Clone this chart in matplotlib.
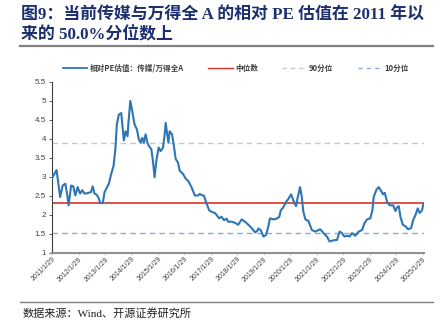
import numpy as np
import pandas as pd
import matplotlib.pyplot as plt
from matplotlib.lines import Line2D

# Relative PE (media / Wind All A), 2011-2025
dates = [
    "2011-01-29", "2011-04-01", "2011-05-20", "2011-06-24", "2011-07-31", "2011-08-20",
    "2011-09-15", "2011-10-18", "2011-11-18", "2011-12-16", "2012-01-17", "2012-02-20",
    "2012-03-22", "2012-04-19", "2012-05-30", "2012-07-18", "2012-08-12", "2012-09-05",
    "2012-10-06", "2012-11-04", "2012-11-23", "2012-12-29", "2013-01-22", "2013-03-22",
    "2013-04-24", "2013-05-26", "2013-06-22", "2013-07-10", "2013-08-07", "2013-09-09",
    "2013-09-23", "2013-10-15", "2013-11-08", "2013-12-05", "2013-12-19", "2014-01-12",
    "2014-02-09", "2014-03-12", "2014-04-13", "2014-05-10", "2014-06-03", "2014-06-26",
    "2014-07-18", "2014-08-11", "2014-09-04", "2014-09-26", "2014-10-29", "2014-11-20",
    "2014-12-13", "2015-01-06", "2015-02-07", "2015-03-07", "2015-04-08", "2015-05-01",
    "2015-05-15", "2015-06-02", "2015-06-21", "2015-07-09", "2015-08-10", "2015-09-02",
    "2015-09-30", "2015-11-01", "2015-11-24", "2016-01-09", "2016-02-15", "2016-03-18",
    "2016-05-05", "2016-06-20", "2016-08-05", "2016-08-28", "2016-10-04", "2016-10-22",
    "2016-11-28", "2017-01-04", "2017-02-06", "2017-03-23", "2017-04-15", "2017-05-21",
    "2017-06-23", "2017-07-29", "2017-09-01", "2017-09-23", "2017-11-09", "2017-12-25",
    "2018-02-09", "2018-03-28", "2018-05-13", "2018-06-28", "2018-08-14", "2018-09-29",
    "2018-10-30", "2018-11-13", "2018-12-16", "2019-01-21", "2019-02-27", "2019-03-30",
    "2019-04-22", "2019-06-07", "2019-07-24", "2019-08-29", "2019-09-18", "2019-10-24",
    "2019-11-30", "2020-01-01", "2020-02-07", "2020-03-10", "2020-04-16", "2020-05-10",
    "2020-06-11", "2020-07-04", "2020-07-26", "2020-08-23", "2020-10-04", "2020-11-20",
    "2021-01-05", "2021-03-15", "2021-04-30", "2021-06-16", "2021-07-22", "2021-09-16",
    "2021-11-02", "2021-12-08", "2022-01-10", "2022-02-11", "2022-03-20", "2022-04-25",
    "2022-05-28", "2022-07-13", "2022-08-28", "2022-10-14", "2022-11-15", "2022-12-22",
    "2023-02-05", "2023-03-05", "2023-03-23", "2023-04-29", "2023-05-31", "2023-06-24",
    "2023-07-31", "2023-08-22", "2023-09-24", "2023-10-30", "2023-12-16", "2024-01-17",
    "2024-02-09", "2024-03-03", "2024-03-26", "2024-04-27", "2024-06-03", "2024-07-10",
    "2024-08-20", "2024-09-17", "2024-10-18", "2024-11-19", "2024-12-16", "2025-01-19",
    "2025-02-05",
]
relative_pe = [
    2.97, 3.18, 2.47, 2.77, 2.82, 2.60,
    2.25, 2.77, 2.75, 2.51, 2.73, 2.56,
    2.65, 2.56, 2.57, 2.60, 2.75, 2.56,
    2.53, 2.43, 2.31, 2.31, 2.60, 2.82,
    3.08, 3.29, 3.77, 4.38, 4.64, 4.68,
    4.40, 3.96, 4.20, 4.07, 4.46, 5.00,
    4.72, 4.38, 4.25, 3.99, 3.90, 4.03,
    3.90, 4.12, 3.90, 3.81, 3.73, 3.42,
    2.99, 3.42, 3.77, 3.68, 3.77, 4.12,
    4.42, 4.16, 3.90, 4.20, 4.12, 3.86,
    3.47, 3.38, 3.16, 3.08, 2.95, 2.90,
    2.73, 2.51, 2.51, 2.55, 2.51, 2.51,
    2.30, 2.12, 2.08, 2.05, 2.00, 1.91,
    1.95, 1.86, 1.90, 1.82, 1.82, 1.79,
    1.74, 1.88, 1.82, 1.74, 1.65, 1.54,
    1.58, 1.64, 1.60, 1.43, 1.47, 1.69,
    1.91, 1.88, 1.90, 1.95, 2.12, 2.20,
    2.34, 2.42, 2.54, 2.38, 2.23, 2.47,
    2.73, 2.47, 2.08, 1.88, 1.84, 1.60,
    1.56, 1.62, 1.52, 1.43, 1.30, 1.33,
    1.34, 1.56, 1.52, 1.43, 1.45, 1.43,
    1.52, 1.45, 1.56, 1.60, 1.78, 1.88,
    1.91, 2.12, 2.47, 2.66, 2.73, 2.66,
    2.54, 2.58, 2.34, 2.25, 2.25, 2.10,
    2.20, 2.23, 1.95, 1.74, 1.70, 1.62,
    1.65, 1.86, 1.99, 2.17, 2.05, 2.12,
    2.30,
]
median_val = 2.30
pct90_val = 3.88
pct10_val = 1.51

tick_years = list(range(2011, 2026))
tick_labels = [f"{y}/1/29" for y in tick_years]

legend_labels = ["相对PE估值：传媒/万得全A", "中位数", "90分位", "10分位"]

cjk = ["Noto Sans CJK SC", "DejaVu Sans"]
serif_cjk = ["Liberation Serif", "Noto Sans CJK SC"]
plt.rcParams["font.family"] = ["Liberation Sans", "Noto Sans CJK SC"]

x = pd.to_datetime(dates)
ticks = pd.to_datetime([f"{y}-01-29" for y in tick_years])

fig = plt.figure(figsize=(4.45, 3.25), dpi=100)
ax = fig.add_axes([0.117, 0.222, 0.836, 0.526])

c_line = "#2e75b6"
c_med = "#d9342b"
c_90 = "#c8c8c8"
c_10 = "#8eaadb"

ax.plot(x, relative_pe, color=c_line, lw=1.5, zorder=3)
ax.axhline(median_val, color=c_med, lw=1.2, zorder=2)
ax.axhline(pct90_val, color=c_90, lw=1.0, ls=(0, (4, 3)), zorder=1)
ax.axhline(pct10_val, color=c_10, lw=1.0, ls=(0, (4, 3)), zorder=1)

ax.set_ylim(1, 5.5)
ax.set_yticks(np.arange(1, 5.51, 0.5))
ax.set_yticklabels([f"{v:g}" for v in np.arange(1, 5.51, 0.5)])
ax.set_xlim(x[0], x[-1] + pd.Timedelta(days=10))
ax.set_xticks(ticks)
ax.set_xticklabels(tick_labels, rotation=45, ha="right", rotation_mode="anchor")

for s in ["top", "right"]:
    ax.spines[s].set_visible(False)
ax.spines["left"].set_color("#404040")
ax.spines["left"].set_linewidth(0.8)
ax.spines["bottom"].set_color("#909090")
ax.spines["bottom"].set_linewidth(1.5)
ax.tick_params(axis="y", labelsize=5.8, length=2.5, width=0.6, colors="#404040", pad=2)
ax.tick_params(axis="x", labelsize=5, length=2, width=0.6, direction="inout",
               colors="#404040", pad=1)

handles = [
    Line2D([], [], color=c_line, lw=1.3),
    Line2D([], [], color=c_med, lw=1.0),
    Line2D([], [], color=c_90, lw=1.0, ls=(0, (3, 3))),
    Line2D([], [], color=c_10, lw=1.0, ls=(0, (3, 3))),
]
fig.legend(handles, legend_labels, loc="center", bbox_to_anchor=(0.53, 0.79), ncol=4,
           frameon=False, prop={"family": cjk, "size": 5.5, "weight": "bold"},
           handlelength=3.2, handletextpad=0.3, columnspacing=3.2,
           labelcolor="#404040")

# title block
title_color = "#1c2f6e"
fig.text(0.048, 0.952, "图9：当前传媒与万得全 A 的相对 PE 估值在 2011 年以",
         family=serif_cjk, weight="bold", size=12.2, color=title_color, va="center")
fig.text(0.048, 0.895, "来的 50.0%分位数上",
         family=serif_cjk, weight="bold", size=12.2, color=title_color, va="center")
fig.add_artist(Line2D([0.045, 0.972], [0.858, 0.858], color="#808080", lw=1.6))

fig.add_artist(Line2D([0.045, 0.972], [0.072, 0.072], color="#808080", lw=1.0))
fig.text(0.05, 0.035, "数据来源：Wind、开源证券研究所",
         family=serif_cjk, size=8, color="#222222", va="center")

fig.savefig("out.png", dpi=100)
